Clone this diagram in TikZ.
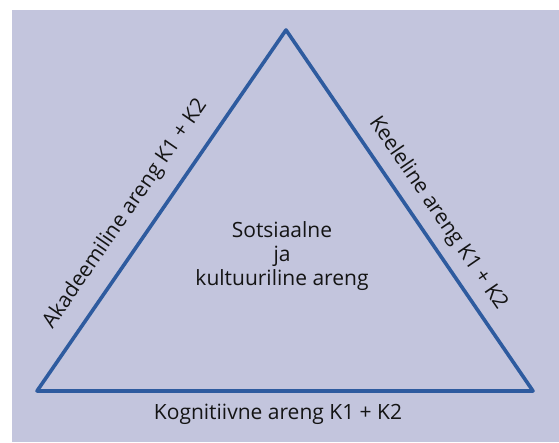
\documentclass[tikz,border=0pt]{standalone}
\usepackage{fontspec}
\setmainfont{Open Sans}
\definecolor{bgc}{RGB}{195,197,221}
\definecolor{edgec}{RGB}{46,91,159}
\definecolor{txtc}{RGB}{20,20,20}
\begin{document}
\begin{tikzpicture}[x=1pt,y=1pt,
  lbl/.style={font=\fontsize{21}{24}\selectfont, text=txtc, inner sep=0pt},
  edgeline/.style={draw=edgec, line width=3.6pt, line join=round, line cap=round}]
\useasboundingbox (0,0) rectangle (559,442);
\fill[bgc] (12,0) rectangle (559,432);
\coordinate (T) at (286,412);
\coordinate (L) at (37,51);
\coordinate (R) at (533,51);
\draw[edgeline] (L) -- (T) -- (R) -- cycle;
\path (L) -- (T) node[lbl, pos=0.447, sloped, above=17pt] (la) {Akadeemiline areng K1 + K2};
\path (T) -- (R) node[lbl, pos=0.542, sloped, above=11pt] (ra) {Keeleline areng K1 + K2};
\node[lbl, align=center] (c) at (282,186) {Sotsiaalne\\ja\\kultuuriline areng};
\node[lbl, anchor=base] (b) at (278,23) {Kognitiivne areng K1 + K2};
\end{tikzpicture}
\end{document}
